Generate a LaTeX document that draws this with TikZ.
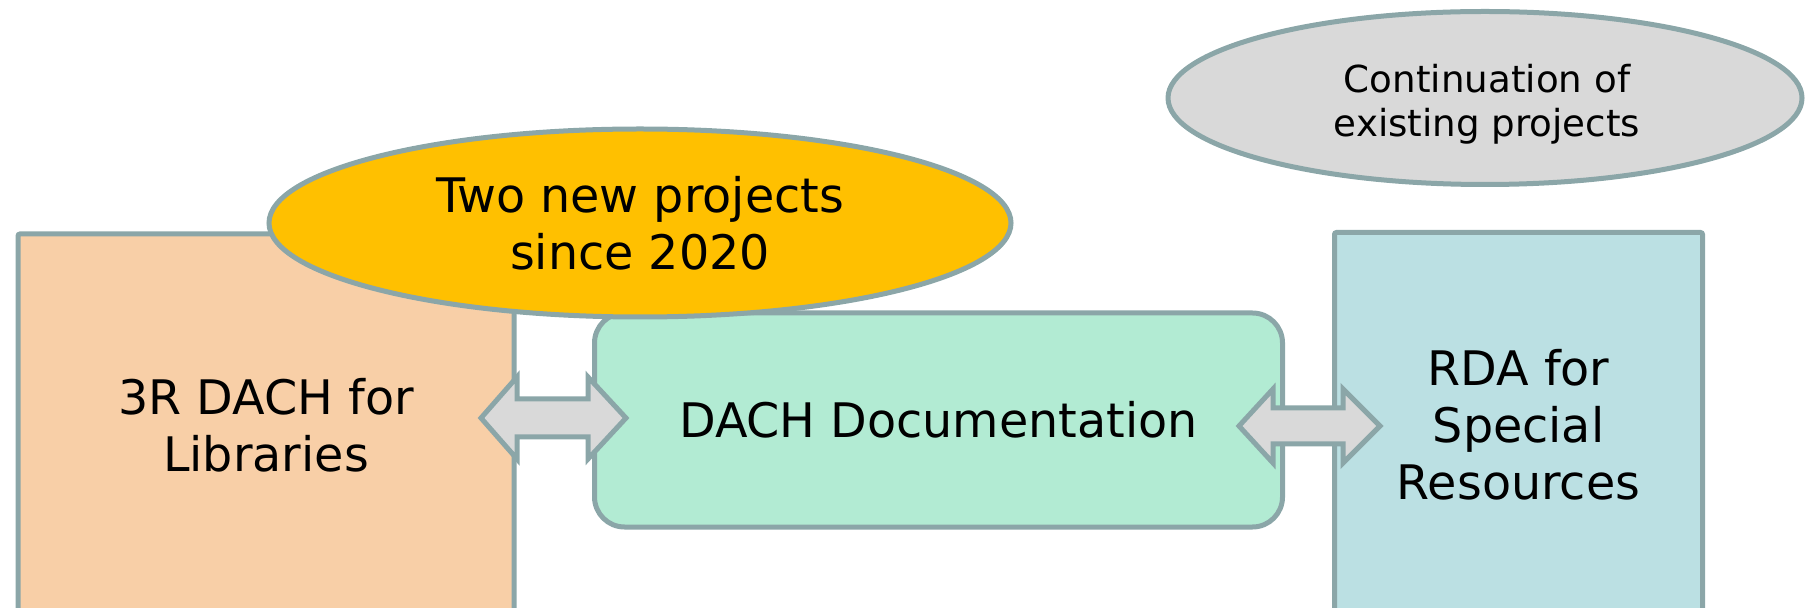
\documentclass[tikz,border=0pt]{standalone}
\usepackage{fontspec}
\setmainfont{DejaVu Sans}
\usetikzlibrary{shapes.geometric}
\definecolor{edgecol}{HTML}{8BA6A8}
\definecolor{libfill}{HTML}{F8CFA7}
\definecolor{docfill}{HTML}{B2EBD3}
\definecolor{rdafill}{HTML}{BBE0E3}
\definecolor{yelfill}{HTML}{FFC000}
\definecolor{grayfill}{HTML}{D9D9D9}
\tikzset{
  base/.style={draw=edgecol, line width=2.5pt, inner sep=0pt, align=center, text=black},
  bigtxt/.style={font=\fontsize{23.8}{28.6}\selectfont},
  smalltxt/.style={font=\fontsize{18.6}{22}\selectfont},
  sqbox/.style={base, rectangle, rounded corners=1pt},
  roundbox/.style={base, rectangle, rounded corners=15pt},
  oval/.style={base, ellipse},
  plaintxt/.style={inner sep=0pt, align=center, text=black},
  blockarrow/.style={draw=edgecol, line width=2.5pt, fill=grayfill, line join=miter}
}
\begin{document}
\begin{tikzpicture}[x=0.5pt,y=-0.5pt]
\useasboundingbox (0,0) rectangle (1807,608);
\clip (0,0) rectangle (1807,608);
% boxes
\node[sqbox, bigtxt, fill=libfill, minimum width=248pt, minimum height=191pt] (lib) at (266,425) {3R DACH for\\Libraries};
\node[sqbox, bigtxt, fill=rdafill, minimum width=184pt, minimum height=192.5pt] (rda) at (1518.5,425) {RDA for\\Special\\Resources};
\node[roundbox, bigtxt, fill=docfill, minimum width=344pt, minimum height=107pt] (doc) at (938.5,420) {DACH Documentation};
% ellipses
\node[oval, fill=grayfill, minimum width=317pt, minimum height=86.5pt] (cont) at (1485,98) {};
\node[plaintxt, smalltxt] (conttxt) at (1487,104) {Continuation of\\existing projects};
\node[oval, bigtxt, fill=yelfill, minimum width=371pt, minimum height=94pt] (new) at (640,223) {Two new projects\\since 2020};
% double block arrows
\draw[blockarrow] (481,418) -- (517,377) -- (517,399) -- (588,399) -- (588,377) -- (626,418)
  -- (588,459) -- (588,437) -- (517,437) -- (517,459) -- cycle;
\draw[blockarrow] (1239,426) -- (1273,389) -- (1273,408) -- (1343,408) -- (1343,389) -- (1380,426)
  -- (1343,463) -- (1343,444) -- (1273,444) -- (1273,463) -- cycle;
\end{tikzpicture}
\end{document}
